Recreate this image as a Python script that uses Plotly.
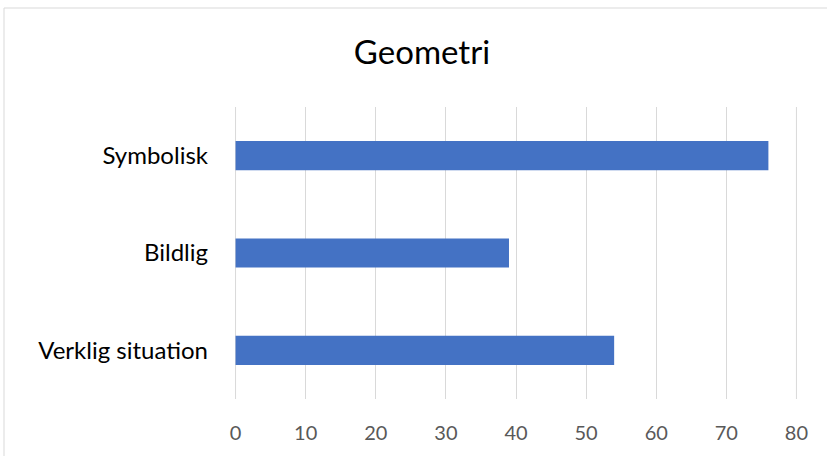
import plotly.graph_objects as go

categories = ["Verklig situation", "Bildlig", "Symbolisk"]
values = [54, 39, 76]
x_ticks = [0, 10, 20, 30, 40, 50, 60, 70, 80]

W, H = 827, 456
L, R, T, B = 235, 30, 107, 57

fig = go.Figure(go.Bar(
    y=categories, x=values, orientation="h",
    marker=dict(color="#4472C4", line=dict(width=0)),
    width=0.3,
))

pw = W - L - R
ph = H - T - B
fig.add_shape(type="line", xref="paper", yref="paper",
              x0=(4 - L) / pw, x1=(4 - L) / pw, y0=-1, y1=1 + (T - 8) / ph,
              line=dict(color="#d9d9d9", width=1))
fig.add_shape(type="line", xref="paper", yref="paper",
              x0=(4 - L) / pw, x1=2, y0=1 + (T - 8) / ph, y1=1 + (T - 8) / ph,
              line=dict(color="#d9d9d9", width=1))
# edge gridlines (plotly drops gridlines at the axis range ends)
for xv in (x_ticks[0], x_ticks[-1]):
    fig.add_shape(type="line", xref="x", yref="paper", x0=xv, x1=xv, y0=0, y1=1,
                  layer="below", line=dict(color="#d9d9d9", width=1))

fig.update_layout(
    width=W, height=H,
    margin=dict(l=L, r=R, t=T, b=B),
    paper_bgcolor="white", plot_bgcolor="white",
    showlegend=False,
    title=dict(text="Geometri", x=422 / W, xanchor="center", y=1 - 52 / H, yanchor="middle",
               font=dict(family="Lato", size=33, color="#000000")),
    xaxis=dict(range=[-0.08, 80.08], tickvals=x_ticks, showgrid=True, gridcolor="#d9d9d9", gridwidth=1,
               zeroline=False, showline=False, ticks="", ticklabelstandoff=20,
               tickfont=dict(family="Lato", size=20, color="#595959"), fixedrange=True),
    yaxis=dict(categoryorder="array", categoryarray=categories, showgrid=False, zeroline=False,
               showline=False, ticks="", ticklabelstandoff=26,
               tickfont=dict(family="Lato", size=24, color="#000000")),
)

fig.write_html("out.html")
